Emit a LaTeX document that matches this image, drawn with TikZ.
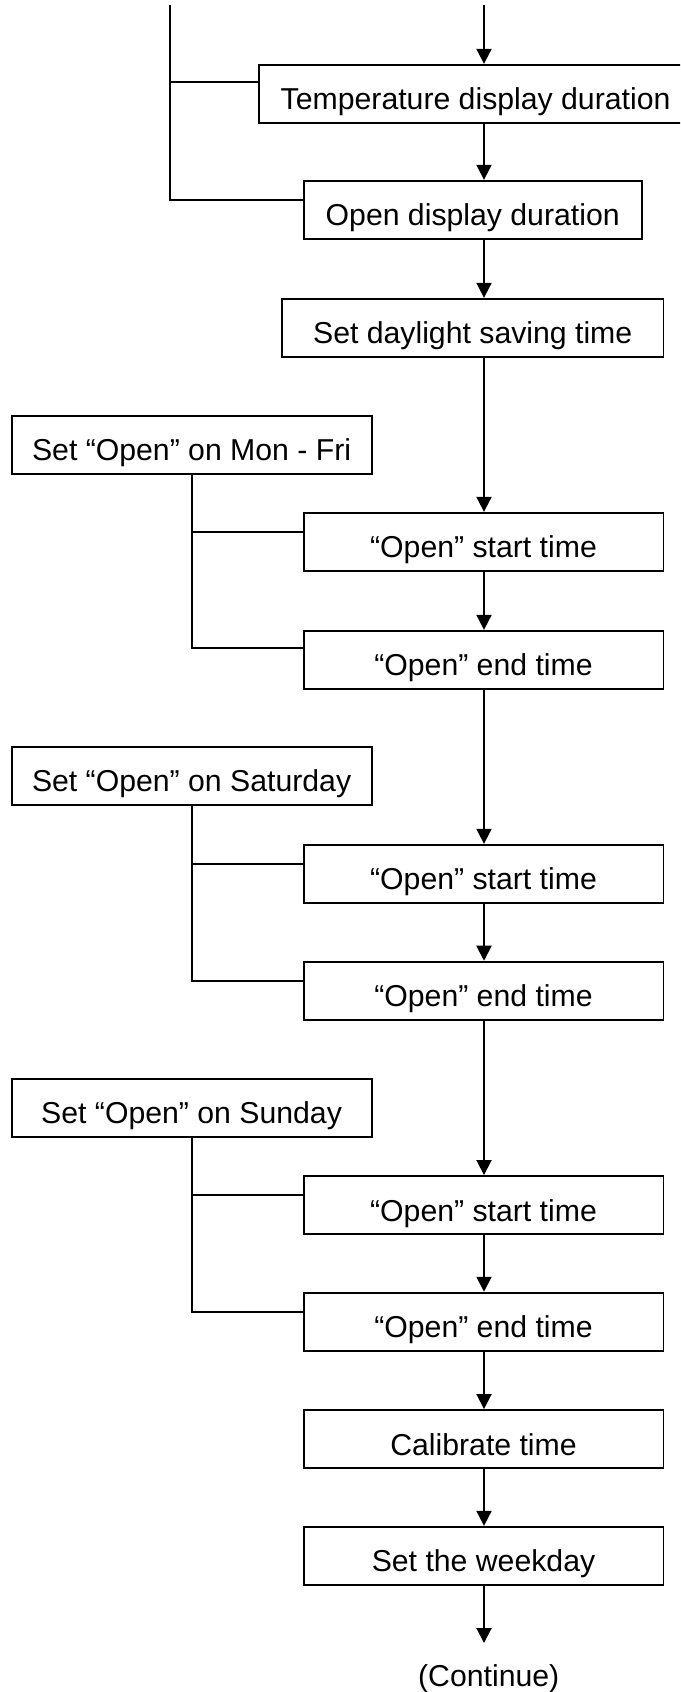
\documentclass[tikz,border=0pt]{standalone}
\usepackage{fontspec}
\setmainfont{Liberation Sans}
\usetikzlibrary{calc, arrows.meta}
\tikzset{
    flow box/.style={
        draw=black, line width=1.1pt, inner sep=0pt,
        minimum height=1.16cm, text height=0.64cm, text depth=0pt,
        font=\fontsize{17.2}{20}\selectfont
    },
    flow arrow/.style={
        line width=1.1pt, -{Triangle[length=0.3cm, width=0.3cm]}
    },
    branch line/.style={line width=1.1pt}
}

\begin{document}
\begin{tikzpicture}[x=0.02cm, y=-0.02cm]

\useasboundingbox (0,0) rectangle (680,1692);
\clip (0,0) rectangle (680,1692);

\coordinate (SpineTop) at (484,5);
\coordinate (SideTop) at (169.6,5);
\coordinate (FlowEnd) at (484,1643);

% Main settings steps.
\node[flow box, minimum width=8.654cm] (temp) at (475.6,93.8) {Temperature display duration};
\node[flow box, minimum width=6.764cm] (openDisp) at (472.7,209.8) {Open display duration};
\node[flow box, minimum width=7.632cm] (dst) at (472.7,327.8) {Set daylight saving time};

% Monday to Friday hours.
\node[flow box, minimum width=7.2cm] (monFri) at (191.6,445) {Set “Open” on Mon - Fri};
\node[flow box, minimum width=7.2cm] (startOne) at (483.5,541.8) {“Open” start time};
\node[flow box, minimum width=7.2cm] (endOne) at (483.5,659.8) {“Open” end time};

% Saturday hours.
\node[flow box, minimum width=7.2cm] (sat) at (191.6,775.8) {Set “Open” on Saturday};
\node[flow box, minimum width=7.2cm] (startTwo) at (483.5,873.8) {“Open” start time};
\node[flow box, minimum width=7.2cm] (endTwo) at (483.5,990.7) {“Open” end time};

% Sunday hours.
\node[flow box, minimum width=7.2cm] (sun) at (191.6,1107.8) {Set “Open” on Sunday};
\node[flow box, minimum width=7.2cm] (startThree) at (483.5,1205) {“Open” start time};
\node[flow box, minimum width=7.2cm] (endThree) at (483.5,1321.7) {“Open” end time};

% Clock and weekday.
\node[flow box, minimum width=7.2cm] (calib) at (483.5,1439) {Calibrate time};
\node[flow box, minimum width=7.2cm] (weekday) at (483.5,1555.8) {Set the weekday};
\node[anchor=base, font=\fontsize{17.2}{20}\selectfont] (cont) at (488.7,1686) {(Continue)};

% Arrows down the main column.
\draw[flow arrow] (SpineTop) -- (temp.north -| SpineTop);
\draw[flow arrow] (temp.south -| SpineTop) -- (openDisp.north -| SpineTop);
\draw[flow arrow] (openDisp.south -| SpineTop) -- (dst.north -| SpineTop);
\draw[flow arrow] (dst.south -| SpineTop) -- (startOne.north -| SpineTop);
\draw[flow arrow] (startOne.south -| SpineTop) -- (endOne.north -| SpineTop);
\draw[flow arrow] (endOne.south -| SpineTop) -- (startTwo.north -| SpineTop);
\draw[flow arrow] (startTwo.south -| SpineTop) -- (endTwo.north -| SpineTop);
\draw[flow arrow] (endTwo.south -| SpineTop) -- (startThree.north -| SpineTop);
\draw[flow arrow] (startThree.south -| SpineTop) -- (endThree.north -| SpineTop);
\draw[flow arrow] (endThree.south -| SpineTop) -- (calib.north -| SpineTop);
\draw[flow arrow] (calib.south -| SpineTop) -- (weekday.north -| SpineTop);
\draw[flow arrow] (weekday.south -| SpineTop) -- (FlowEnd);

% Side branches into each step.
\draw[branch line] (SideTop) |- ($(temp.north west)!0.31!(temp.south west)$);
\draw[branch line] (SideTop) |- ($(openDisp.north west)!0.34!(openDisp.south west)$);
\draw[branch line] (monFri.south) |- ($(startOne.north west)!0.34!(startOne.south west)$);
\draw[branch line] (monFri.south) |- ($(endOne.north west)!0.31!(endOne.south west)$);
\draw[branch line] (sat.south) |- ($(startTwo.north west)!0.34!(startTwo.south west)$);
\draw[branch line] (sat.south) |- ($(endTwo.north west)!0.34!(endTwo.south west)$);
\draw[branch line] (sun.south) |- ($(startThree.north west)!0.34!(startThree.south west)$);
\draw[branch line] (sun.south) |- ($(endThree.north west)!0.34!(endThree.south west)$);

\end{tikzpicture}
\end{document}
